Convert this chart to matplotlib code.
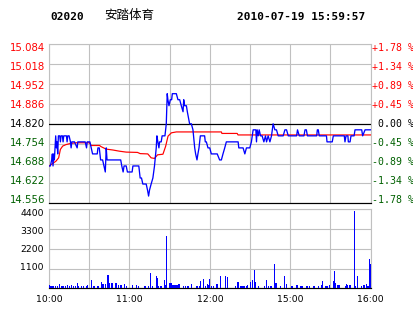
import matplotlib
matplotlib.use("Agg")
import matplotlib.pyplot as plt

# ---------------- data ----------------
stock_code = "02020"
stock_name = "安踏体育"
stamp = "2010-07-19 15:59:57"
prev_close = 14.820

price_ticks = [15.084, 15.018, 14.952, 14.886, 14.820, 14.754, 14.688, 14.622, 14.556]
price_labels = ["15.084", "15.018", "14.952", "14.886", "14.820", "14.754", "14.688", "14.622", "14.556"]
pct_labels = ["+1.78 %", "+1.34 %", "+0.89 %", "+0.45 %", " 0.00 %", "-0.45 %", "-0.89 %", "-1.34 %", "-1.78 %"]
vol_ticks = [4400, 3300, 2200, 1100]
time_ticks = [0, 60, 120, 180, 240]
time_labels = ["10:00", "11:00", "12:00", "15:00", "16:00"]

# minute index (0 = 10:00, 240 = 16:00, lunch break removed) and price
price_t = [0, 1, 2, 2.5, 3, 3.5, 4, 5, 5.5, 6, 6.5, 7, 8, 8.5, 9, 10, 10.5, 11, 13, 13.5,
           14, 15, 16, 16.5, 17, 19, 21, 21.5, 27, 28, 28.5, 30.5, 31.5, 32.5, 36, 36.5,
           37.5, 38.5, 40, 41, 42, 42.7, 43.3, 53.5, 54.3, 55.3, 56, 57.6, 58.5, 62,
           62.6, 67, 68, 69, 70, 72.5, 73.5, 74.3, 75, 76.2, 77.5, 78.7, 80, 80.5, 81.2,
           82, 82.5, 83.7, 84.4, 86.5, 87.5, 88.2, 88.7, 89.5, 90.5, 91.5, 92, 95, 96.2,
           97.5, 98.7, 100, 100.5, 101.2, 102.5, 103.2, 104.9, 106.2, 107.4, 108.7, 109.4,
           110.4, 111.1, 111.9, 112.9, 116.1, 116.6, 117.4, 118.6, 119.9, 121.1, 125.5,
           127.3, 128.6, 129.8, 131.1, 132.3, 141.1, 141.6, 144.8, 146.1, 147.3, 149.8,
           151, 152.3, 154.3, 154.8, 155.3, 156.1, 156.8, 157.8, 159, 160.3, 161.5, 162.3,
           163.5, 164.8, 166, 167.2, 168.5, 169.7, 171, 174.7, 176, 177.2, 178.5, 184.7,
           185.4, 186.7, 190.2, 191, 192, 192.8, 199.7, 200.2, 200.9, 201.6, 207, 207.4,
           211.3, 212.1, 220.3, 220.8, 221.6, 223, 223.3, 224.6, 225.3, 227.6, 228.3,
           233.3, 234, 235.8, 240]
price_v = [14.68, 14.68, 14.70, 14.72, 14.68, 14.72, 14.70, 14.78, 14.74, 14.76, 14.72,
           14.78, 14.78, 14.76, 14.78, 14.78, 14.76, 14.78, 14.78, 14.76,
           14.78, 14.78, 14.76, 14.74, 14.76, 14.76, 14.74, 14.76, 14.76, 14.74, 14.76,
           14.76, 14.74, 14.72, 14.72, 14.74,
           14.74, 14.70, 14.70, 14.68, 14.66, 14.74, 14.70, 14.70, 14.68, 14.66, 14.68,
           14.68, 14.66, 14.66,
           14.68, 14.68, 14.64, 14.64, 14.62, 14.62, 14.60, 14.58, 14.60, 14.62, 14.64,
           14.68, 14.74, 14.78, 14.76,
           14.74, 14.76, 14.76, 14.78, 14.78, 14.82, 14.92, 14.90, 14.88, 14.90, 14.90,
           14.92, 14.92, 14.90,
           14.90, 14.88, 14.86, 14.90, 14.88, 14.88, 14.86, 14.82, 14.82, 14.80, 14.74,
           14.72,
           14.70, 14.72, 14.74, 14.78, 14.78, 14.76, 14.76, 14.74, 14.74, 14.72, 14.72,
           14.70, 14.70, 14.72, 14.74, 14.76, 14.76, 14.74, 14.74, 14.72, 14.74, 14.74,
           14.76, 14.80, 14.80, 14.76, 14.80, 14.78, 14.80, 14.78, 14.78, 14.76, 14.78,
           14.76,
           14.78, 14.76, 14.78, 14.82, 14.80, 14.80, 14.78, 14.78, 14.80, 14.80, 14.78,
           14.78,
           14.80, 14.78, 14.78, 14.80, 14.80, 14.78, 14.78, 14.80, 14.80, 14.78, 14.78,
           14.76,
           14.76, 14.78, 14.78, 14.76, 14.78, 14.78, 14.76, 14.76, 14.78, 14.78, 14.80,
           14.80, 14.78, 14.80, 14.80]

# average price line
avg_t = [0, 2.7, 5.2, 7.2, 8.5, 10.2, 12.7, 16.4, 20.2, 30.2, 31.4, 37.7, 38.9, 42.6,
         47.6, 52.6, 57.6, 66, 68, 73.7, 76.2, 78.7, 81, 85, 87, 88.8, 91.3, 95, 128.6,
         129, 140.4, 141, 240]
avg_v = [14.680, 14.688, 14.696, 14.707, 14.735, 14.746, 14.751, 14.755, 14.757, 14.757,
         14.748, 14.748, 14.744, 14.736, 14.733, 14.729, 14.726, 14.725, 14.721, 14.720,
         14.707, 14.705, 14.717, 14.719, 14.745, 14.779, 14.790, 14.793, 14.793, 14.788,
         14.788, 14.783, 14.783]

# per-minute volume, minute 0..240
volume = [160, 150, 150, 150, 0, 150, 150, 0, 240, 150,
          150, 150, 150, 0, 200, 150, 0, 200, 150, 0,
          150, 300, 150, 0, 130, 0, 150, 0, 150, 200,
          0, 0, 460, 150, 150, 0, 150, 150, 0, 330,
          240, 240, 240, 0, 740, 300, 0, 280, 0, 0,
          280, 0, 200, 200, 200, 0, 220, 0, 150, 0,
          0, 0, 200, 0, 0, 200, 0, 150, 0, 0,
          0, 150, 150, 0, 150, 0, 850, 150, 0, 0,
          690, 590, 150, 150, 150, 0, 460, 200, 2900, 0,
          300, 300, 200, 200, 200, 200, 200, 240, 0, 0,
          150, 0, 150, 150, 150, 0, 240, 0, 0, 0,
          150, 150, 150, 410, 0, 520, 0, 150, 240, 190,
          520, 150, 0, 150, 0, 240, 240, 0, 690, 0,
          0, 0, 690, 650, 0, 0, 0, 0, 0, 150,
          0, 330, 0, 150, 150, 150, 150, 150, 190, 0,
          330, 0, 460, 1020, 330, 0, 150, 0, 0, 0,
          0, 150, 460, 0, 150, 150, 150, 0, 1355, 280,
          280, 0, 0, 150, 0, 0, 690, 240, 0, 0,
          0, 150, 150, 0, 0, 190, 0, 0, 150, 150,
          0, 0, 150, 150, 150, 0, 0, 150, 150, 0,
          0, 150, 0, 190, 410, 0, 150, 150, 150, 190,
          0, 0, 410, 965, 300, 190, 190, 190, 0, 0,
          0, 150, 240, 190, 190, 190, 0, 0, 4310, 150,
          690, 0, 0, 150, 0, 190, 0, 240, 150, 1634,
          1355]

# ---------------- styling ----------------
GRID = "#C0C0C0"
RED = "#FF0000"
GREEN = "#006000"
BLUE = "#0000FF"
W, H = 414, 314
PX = 0.72  # one pixel in points at 100 dpi

fig = plt.figure(figsize=(W / 100, H / 100), dpi=100)
fig.patch.set_facecolor("white")

L, R = 49, 370.7
ax = fig.add_axes([L / W, 1 - 203.3 / H, (R - L) / W, 159 / H])
axv = fig.add_axes([L / W, 1 - 288.3 / H, (R - L) / W, 79 / H])

# ---------- price panel ----------
ax.set_xlim(0, 240)
ax.set_ylim(14.556, 15.084)
ax.set_xticks(range(0, 241, 30))
ax.set_yticks(price_ticks)
ax.grid(True, color=GRID, lw=PX * 1.1)
ax.tick_params(length=0, labelbottom=False, labelleft=False)
for s in ("left", "right", "top"):
    ax.spines[s].set_color(GRID)
    ax.spines[s].set_linewidth(PX * 1.1)
ax.spines["bottom"].set_color("black")
ax.spines["bottom"].set_linewidth(PX * 1.2)
ax.axhline(prev_close, color="black", lw=PX * 1.2, zorder=3)
ax.plot(avg_t, avg_v, color=RED, lw=PX * 1.2, zorder=4)
ax.plot(price_t, price_v, color=BLUE, lw=PX * 1.3, zorder=5)

n = len(price_labels)
for i, (pl, cl) in enumerate(zip(price_labels, pct_labels)):
    frac = 0.9786 - i * (0.9786 - 0.0226) / (n - 1)
    v = price_ticks[i]
    col = RED if v > prev_close + 1e-9 else ("black" if abs(v - prev_close) < 1e-9 else GREEN)
    ax.text(-0.012, frac, pl, transform=ax.transAxes, ha="right", va="center",
            fontsize=7.3, color=col, family="DejaVu Sans")
    ax.text(1.004, frac, cl, transform=ax.transAxes, ha="left", va="center",
            fontsize=7.1, color=col, family="DejaVu Sans Mono")

# ---------- volume panel ----------
axv.bar(range(len(volume)), volume, width=0.8, color=BLUE, linewidth=0,
        antialiased=False, zorder=3)
axv.set_xlim(0, 240)
axv.set_ylim(0, 4400)
axv.set_xticks(range(0, 241, 30))
axv.set_xticklabels(["10:00", "", "11:00", "", "12:00", "", "15:00", "", "16:00"])
axv.set_yticks([1100, 2200, 3300, 4400])
axv.grid(True, color=GRID, lw=PX * 1.1, zorder=0)
axv.tick_params(length=0, labelleft=False, labelsize=6.7, pad=4.5)
for s in ("left", "right", "top"):
    axv.spines[s].set_color(GRID)
    axv.spines[s].set_linewidth(PX * 1.1)
axv.spines["bottom"].set_color("black")
axv.spines["bottom"].set_linewidth(PX * 1.2)
for v in vol_ticks:
    frac = v / 4400 * 0.92 + 0.03
    axv.text(-0.016, frac, str(v), transform=axv.transAxes, ha="right", va="center",
             fontsize=6.7, color="black", family="DejaVu Sans")

# ---------- header ----------
fig.text(50 / W, 1 - 17 / H, stock_code, ha="left", va="center", fontsize=8,
         fontweight="bold", family="DejaVu Sans Mono")
fig.text(104 / W, 1 - 16 / H, stock_name, ha="left", va="center", fontsize=9,
         family=["Noto Sans CJK SC", "DejaVu Sans"])
fig.text(237 / W, 1 - 17 / H, stamp, ha="left", va="center", fontsize=8,
         fontweight="bold", family="DejaVu Sans Mono")

fig.savefig("out.png", dpi=100, facecolor="white")
